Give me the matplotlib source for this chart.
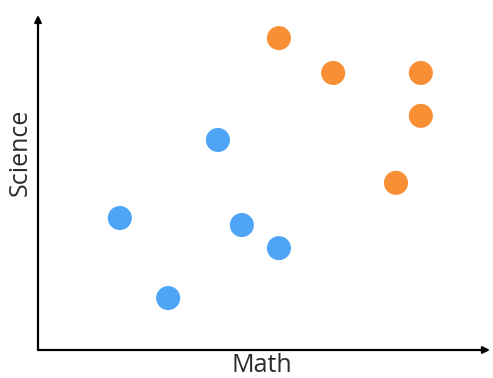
import numpy as np
import matplotlib.pyplot as plt

plt.rcParams['font.family'] = ['Open Sans', 'DejaVu Sans']

# scores
blue_math = [18.1, 28.8, 39.8, 45.1, 53.3]
blue_science = [39.4, 15.5, 62.7, 37.3, 30.4]
orange_math = [53.3, 65.3, 84.7, 84.7, 79.2]
orange_science = [93.1, 82.7, 82.7, 69.9, 49.9]

fig = plt.figure(figsize=(4.93, 3.78), dpi=100)
# axes origin at (38, 350) px, extends to (490, 15)
ax = fig.add_axes([38 / 493, 28 / 378, 452 / 493, 335 / 378])
ax.set_xlim(0, 100)
ax.set_ylim(0, 100)

ax.scatter(blue_math, blue_science, s=300, color='#4ea4f7', edgecolors='none')
ax.scatter(orange_math, orange_science, s=300, color='#f98f35', edgecolors='none')

for side in ['top', 'right', 'left', 'bottom']:
    ax.spines[side].set_visible(False)
ax.set_xticks([])
ax.set_yticks([])

# arrow axes
ax.annotate('', xy=(100, 0), xytext=(0, 0),
            arrowprops=dict(arrowstyle='-|>', color='black', lw=1.6, mutation_scale=10,
                            shrinkA=0, shrinkB=0), annotation_clip=False)
ax.annotate('', xy=(0, 100), xytext=(0, 0),
            arrowprops=dict(arrowstyle='-|>', color='black', lw=1.6, mutation_scale=10,
                            shrinkA=0, shrinkB=0), annotation_clip=False)

fig.text(262 / 493, 1 - 366 / 378, 'Math', fontsize=18, color='#2b2b2b',
         ha='center', va='center')
fig.text(20 / 493, 1 - 152 / 378, 'Science', fontsize=18, color='#2b2b2b',
         ha='center', va='center', rotation=90)

fig.savefig('out.png', dpi=100)
